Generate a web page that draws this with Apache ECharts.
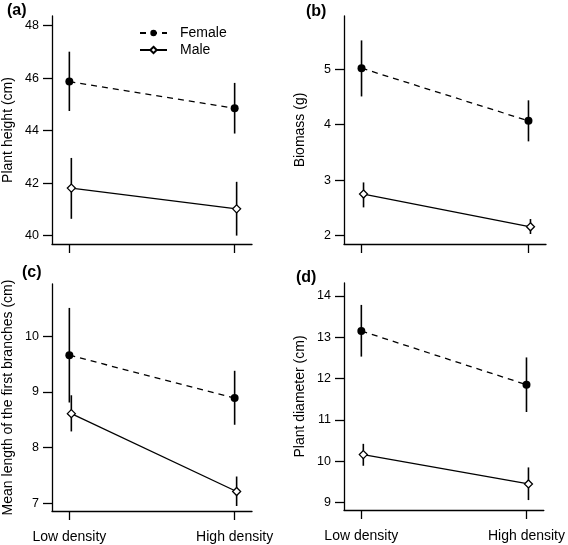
<!DOCTYPE html>
<html>
<head>
<meta charset="utf-8">
<script src="https://cdn.jsdelivr.net/npm/echarts@6/dist/echarts.min.js"></script>
<style>
html,body{margin:0;padding:0;background:#fff;}
#chart{width:568px;height:545px;}
</style>
</head>
<body>
<div id="chart"></div>
<script>
// ---- data ----
const categories = ["Low density", "High density"];
const femaleX = [1, 2];
const maleX = [1.012, 2.012];

const heightFemale = [45.87, 44.85];
const heightFemaleLo = [44.75, 43.89];
const heightFemaleHi = [47.01, 45.82];
const heightMale = [41.81, 41.02];
const heightMaleLo = [40.64, 40.00];
const heightMaleHi = [42.96, 42.05];

const biomassFemale = [5.02, 4.07];
const biomassFemaleLo = [4.51, 3.70];
const biomassFemaleHi = [5.52, 4.44];
const biomassMale = [2.75, 2.16];
const biomassMaleLo = [2.51, 2.03];
const biomassMaleHi = [2.96, 2.30];

const branchFemale = [9.66, 8.89];
const branchFemaleLo = [8.81, 8.41];
const branchFemaleHi = [10.51, 9.38];
const branchMale = [8.61, 7.21];
const branchMaleLo = [8.29, 6.95];
const branchMaleHi = [8.94, 7.48];

const diamFemale = [13.15, 11.85];
const diamFemaleLo = [12.53, 11.19];
const diamFemaleHi = [13.78, 12.51];
const diamMale = [10.16, 9.45];
const diamMaleLo = [9.89, 9.06];
const diamMaleHi = [10.42, 9.85];

const heightTicks = [40, 42, 44, 46, 48];
const biomassTicks = [2, 3, 4, 5];
const branchTicks = [7, 8, 9, 10];
const diamTicks = [9, 10, 11, 12, 13, 14];

const panelLabels = ["(a)", "(b)", "(c)", "(d)"];
const yNames = ["Plant height (cm)", "Biomass (g)", "Mean length of the first branches (cm)", "Plant diameter (cm)"];

// ---- layout / style ----
const FONT = "Liberation Sans, Arial, Helvetica, sans-serif";
const panels = [
  {grid:{left:52, top:16, width:200, height:228}, yMin:39.68, yMax:48.37, ticks:heightTicks,
   f:heightFemale, fLo:heightFemaleLo, fHi:heightFemaleHi, m:heightMale, mLo:heightMaleLo, mHi:heightMaleHi, xlab:false,
   label:{left:7, top:3}},
  {grid:{left:344, top:16, width:202, height:228}, yMin:1.85, yMax:5.96, ticks:biomassTicks,
   f:biomassFemale, fLo:biomassFemaleLo, fHi:biomassFemaleHi, m:biomassMale, mLo:biomassMaleLo, mHi:biomassMaleHi, xlab:false,
   label:{left:306, top:4}},
  {grid:{left:51, top:284, width:201, height:227}, yMin:6.86, yMax:10.94, ticks:branchTicks,
   f:branchFemale, fLo:branchFemaleLo, fHi:branchFemaleHi, m:branchMale, mLo:branchMaleLo, mHi:branchMaleHi, xlab:true,
   label:{left:22, top:265}},
  {grid:{left:344, top:283, width:202, height:227}, yMin:8.82, yMax:14.31, ticks:diamTicks,
   f:diamFemale, fLo:diamFemaleLo, fHi:diamFemaleHi, m:diamMale, mLo:diamMaleLo, mHi:diamMaleHi, xlab:true,
   label:{left:296, top:270}}
];

const grids = [], xAxes = [], yAxes = [], series = [], titles = [];
const axisLineStyle = {color:'#000', width:1.3};

function errRender(params, api) {
  const p1 = api.coord([api.value(0), api.value(1)]);
  const p2 = api.coord([api.value(0), api.value(2)]);
  return {type:'line', shape:{x1:p1[0], y1:p1[1], x2:p2[0], y2:p2[1]},
          style:{stroke:'#000', lineWidth:1.6}};
}

panels.forEach((p, i) => {
  grids.push(Object.assign({containLabel:false}, p.grid));
  xAxes.push({
    gridIndex:i, type:'value', min:0.895, max:2.105,
    axisLine:{show:true, onZero:false, lineStyle:axisLineStyle},
    axisTick:{show:true, customValues:[1,2], length:9, lineStyle:axisLineStyle},
    axisLabel:{show:p.xlab, customValues:[1,2], formatter:v => categories[Math.round(v)-1],
               margin:19, fontSize:14, color:'#000', fontFamily:FONT},
    splitLine:{show:false}
  });
  yAxes.push({
    gridIndex:i, type:'value', min:p.yMin, max:p.yMax,
    axisLine:{show:true, onZero:false, lineStyle:axisLineStyle},
    axisTick:{show:true, customValues:p.ticks, length:9, lineStyle:axisLineStyle},
    axisLabel:{customValues:p.ticks, margin:13, fontSize:12.5, color:'#000', fontFamily:FONT},
    splitLine:{show:false},
    name:yNames[i], nameLocation:'middle', nameGap:37,
    nameTextStyle:{fontSize:14, color:'#000', fontFamily:FONT}
  });
  titles.push({text:panelLabels[i], left:p.label.left, top:p.label.top, padding:0,
    textStyle:{fontSize:16, fontWeight:'bold', color:'#000', fontFamily:FONT}});

  series.push({
    type:'custom', name:'errF'+i, xAxisIndex:i, yAxisIndex:i, renderItem:errRender, z:1,
    data:femaleX.map((x, k) => [x, p.fLo[k], p.fHi[k]])
  });
  series.push({
    type:'custom', name:'errM'+i, xAxisIndex:i, yAxisIndex:i, renderItem:errRender, z:1,
    data:maleX.map((x, k) => [x, p.mLo[k], p.mHi[k]])
  });
  series.push({
    type:'line', name:'Female', xAxisIndex:i, yAxisIndex:i, z:3,
    symbol:'circle', symbolSize:8,
    itemStyle:{color:'#000'},
    lineStyle:{color:'#000', width:1.3, type:[6,5]},
    data:femaleX.map((x, k) => [x, p.f[k]])
  });
  series.push({
    type:'line', name:'Male', xAxisIndex:i, yAxisIndex:i, z:3,
    symbol:'diamond', symbolSize:8,
    itemStyle:{color:'#fff', borderColor:'#000', borderWidth:1.3},
    lineStyle:{color:'#000', width:1.3, type:'solid'},
    data:maleX.map((x, k) => [x, p.m[k]])
  });
});

const chart = echarts.init(document.getElementById('chart'), null, {renderer:'canvas'});
chart.setOption({
  animation:false,
  backgroundColor:'#fff',
  textStyle:{fontFamily:FONT},
  title:titles,
  legend:{
    data:['Female','Male'], orient:'vertical', left:134, top:21,
    itemWidth:27, itemHeight:8, itemGap:3,
    textStyle:{fontSize:14, color:'#000', fontFamily:FONT, padding:[0,0,0,8]}
  },
  grid:grids, xAxis:xAxes, yAxis:yAxes, series:series
});
</script>
</body>
</html>
